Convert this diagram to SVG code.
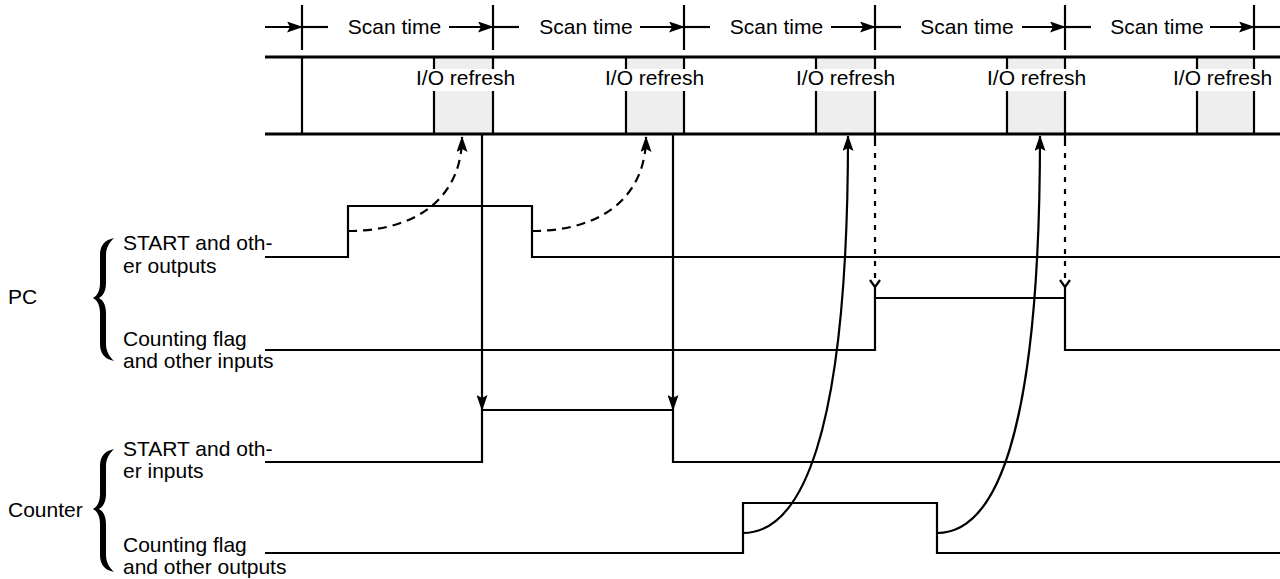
<svg xmlns="http://www.w3.org/2000/svg" width="1280" height="579" viewBox="0 0 1280 579">
<style>
.ln{stroke:#000;stroke-width:2.2;fill:none}
.band{stroke:#000;stroke-width:3;fill:none}
.box{fill:#eeeeee;stroke:none}
.t{font-family:"Liberation Sans",Arial,sans-serif;font-size:21px;fill:#000}
.dash{stroke:#000;stroke-width:2.2;fill:none;stroke-dasharray:9 6}
.dot{stroke:#000;stroke-width:2.2;fill:none;stroke-dasharray:5 7}
.bg{fill:#fff}
</style>
<defs>
<marker id="ah" markerUnits="userSpaceOnUse" viewBox="0 0 16 11" refX="15" refY="5.5" markerWidth="16" markerHeight="11" orient="auto"><path d="M0,0 L16,5.5 L0,11 L3,5.5 Z" fill="#000"/></marker>
<marker id="ahs" markerUnits="userSpaceOnUse" viewBox="0 0 16 11" refX="15" refY="5.5" markerWidth="16" markerHeight="11" orient="auto"><path d="M0,0 L16,5.5 L0,11 L3,5.5 Z" fill="#000"/></marker>
<path id="brace" d="M114,238 C105,240 100,245 100,255 L100,283 C100,291 97,296 93,298 C97,300 100,305 100,313 L100,344 C100,354 105,359 114,361 C110,357 106,352 106,344 L106,313 C106,305 103,300 99,298 C103,296 106,291 106,283 L106,255 C106,247 110,242 114,238 Z" fill="#000"/>
</defs>

<g id="scan-time">
<line class="ln" x1="265" y1="27" x2="302" y2="27" marker-end="url(#ahs)"/>
<g class="ln">
<line x1="302" y1="5" x2="302" y2="50"/>
<line x1="493" y1="5" x2="493" y2="50"/>
<line x1="684" y1="5" x2="684" y2="50"/>
<line x1="875" y1="5" x2="875" y2="50"/>
<line x1="1065" y1="5" x2="1065" y2="50"/>
<line x1="1254" y1="5" x2="1254" y2="50"/>
<line x1="302" y1="27" x2="328" y2="27"/>
<line x1="493" y1="27" x2="519" y2="27"/>
<line x1="684" y1="27" x2="710" y2="27"/>
<line x1="875" y1="27" x2="901" y2="27"/>
<line x1="1065" y1="27" x2="1091" y2="27"/>
<line x1="1254" y1="27" x2="1280" y2="27"/>
</g>
<line class="ln" x1="449" y1="27" x2="493" y2="27" marker-end="url(#ahs)"/>
<line class="ln" x1="640" y1="27" x2="684" y2="27" marker-end="url(#ahs)"/>
<line class="ln" x1="831" y1="27" x2="875" y2="27" marker-end="url(#ahs)"/>
<line class="ln" x1="1022" y1="27" x2="1065" y2="27" marker-end="url(#ahs)"/>
<line class="ln" x1="1210" y1="27" x2="1254" y2="27" marker-end="url(#ahs)"/>
<g class="t" text-anchor="middle">
<text x="394.5" y="34">Scan time</text>
<text x="586" y="34">Scan time</text>
<text x="776.5" y="34">Scan time</text>
<text x="967" y="34">Scan time</text>
<text x="1157" y="34">Scan time</text>
</g>
</g>

<g id="cycle-band">
<rect class="box" x="434" y="57" width="59" height="77"/>
<rect class="box" x="626" y="57" width="58" height="77"/>
<rect class="box" x="816" y="57" width="59" height="77"/>
<rect class="box" x="1007" y="57" width="58" height="77"/>
<rect class="box" x="1197" y="57" width="57" height="77"/>
<line class="band" x1="265" y1="57" x2="1280" y2="57"/>
<line class="band" x1="265" y1="134" x2="1280" y2="134"/>
<g class="ln">
<line x1="302" y1="57" x2="302" y2="134"/>
<line x1="434" y1="57" x2="434" y2="134"/>
<line x1="493" y1="57" x2="493" y2="134"/>
<line x1="626" y1="57" x2="626" y2="134"/>
<line x1="684" y1="57" x2="684" y2="134"/>
<line x1="816" y1="57" x2="816" y2="134"/>
<line x1="875" y1="57" x2="875" y2="141"/>
<line x1="1007" y1="57" x2="1007" y2="134"/>
<line x1="1065" y1="57" x2="1065" y2="141"/>
<line x1="1197" y1="57" x2="1197" y2="134"/>
<line x1="1254" y1="57" x2="1254" y2="134"/>
</g>
<rect class="bg" x="415" y="69" width="102" height="22"/>
<rect class="bg" x="604" y="69" width="102" height="22"/>
<rect class="bg" x="795" y="69" width="102" height="22"/>
<rect class="bg" x="986" y="69" width="102" height="22"/>
<rect class="bg" x="1172" y="69" width="102" height="22"/>
<g class="t">
<text x="416" y="85">I/O refresh</text>
<text x="605" y="85">I/O refresh</text>
<text x="796" y="85">I/O refresh</text>
<text x="987" y="85">I/O refresh</text>
<text x="1173" y="85">I/O refresh</text>
</g>
</g>

<g id="pc">
<text class="t" x="8" y="304">PC</text>
<use href="#brace"/>
</g>
<g id="pc-start-outputs">
<text class="t" x="123" y="250">START and oth-</text>
<text class="t" x="123" y="273">er outputs</text>
<polyline class="ln" points="265,257 348,257 348,206 532,206 532,257 1280,257"/>
</g>
<g id="pc-counting-flag-inputs">
<text class="t" x="123" y="346">Counting flag</text>
<text class="t" x="123" y="368">and other inputs</text>
<polyline class="ln" points="265,350 875,350 875,298 1065,298 1065,350 1280,350"/>
</g>

<g id="counter">
<text class="t" x="8" y="517">Counter</text>
<use href="#brace" transform="translate(0,211)"/>
</g>
<g id="counter-start-inputs">
<text class="t" x="123" y="456">START and oth-</text>
<text class="t" x="123" y="478">er inputs</text>
<polyline class="ln" points="265,462 482,462 482,410 673,410 673,462 1280,462"/>
</g>
<g id="counter-counting-flag-outputs">
<text class="t" x="123" y="552">Counting flag</text>
<text class="t" x="123" y="574">and other outputs</text>
<polyline class="ln" points="265,553 743,553 743,503 937,503 937,553 1280,553"/>
</g>

<g id="connectors">
<path class="dash" d="M348,231 C420,231 462,195 462,137" marker-end="url(#ah)"/>
<path class="dash" d="M532,231 C604,231 646,195 646,137" marker-end="url(#ah)"/>
<line class="ln" x1="482" y1="134" x2="482" y2="410" marker-end="url(#ah)"/>
<line class="ln" x1="673" y1="134" x2="673" y2="410" marker-end="url(#ah)"/>
<path class="ln" d="M743,533 C800,533 848,440 848,136" marker-end="url(#ah)"/>
<path class="ln" d="M937,533 C994,533 1040,440 1040,136" marker-end="url(#ah)"/>
<line class="dot" x1="875" y1="141" x2="875" y2="282"/>
<line class="dot" x1="1065" y1="141" x2="1065" y2="282"/>
<path class="ln" d="M870,280 L875,287 L880,280 M875,286 L875,298"/>
<path class="ln" d="M1060,280 L1065,287 L1070,280 M1065,286 L1065,298"/>
</g>
</svg>
